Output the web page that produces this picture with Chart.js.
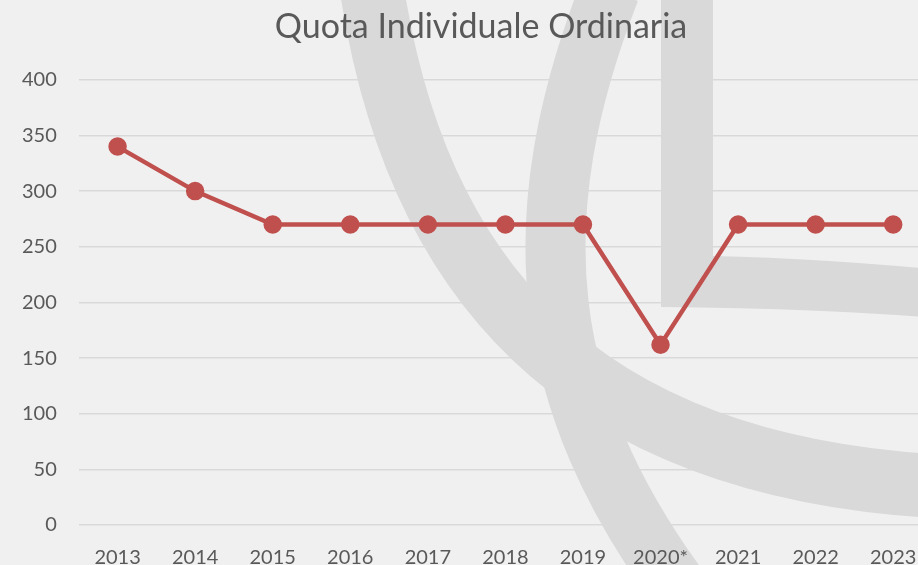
<!DOCTYPE html>
<html>
<head>
<meta charset="utf-8">
<script src="https://cdn.jsdelivr.net/npm/chart.js@4.4.1/dist/chart.umd.min.js"></script>
<style>
  html, body { margin: 0; padding: 0; background: #f0f0f0; overflow: hidden; }
  #wrap { width: 964px; height: 565px; }
</style>
</head>
<body>
<div id="wrap"><canvas id="myChart" width="964" height="565"></canvas></div>
<script>
const years = ['2013', '2014', '2015', '2016', '2017', '2018', '2019', '2020*', '2021', '2022', '2023']
const quota = [340, 300, 270, 270, 270, 270, 270, 162, 270, 270, 270]
const yTicks = [0, 50, 100, 150, 200, 250, 300, 350, 400]

const textColor = '#595959'
const lineColor = '#c0504d'

// grey logo behind the plot, plus a small nudge of the title
const watermark = {
    id: 'watermark',
    afterLayout(chart) {
        let t = chart.titleBlock
        if (t) {
            t.left += 15
            t.right += 15
        }
    },
    beforeDraw(chart) {
        let ctx = chart.ctx
        ctx.save()
        ctx.fillStyle = '#f0f0f0'
        ctx.fillRect(0, 0, chart.width, chart.height)

        ctx.strokeStyle = '#d9d9d9'
        ctx.fillStyle = '#d9d9d9'
        ctx.lineCap = 'butt'

        // outer curve
        ctx.lineWidth = 64
        ctx.beginPath()
        ctx.moveTo(372, -10)
        ctx.bezierCurveTo(420, 300, 600, 480, 980, 488)
        ctx.stroke()

        // inner curve
        ctx.lineWidth = 60
        ctx.beginPath()
        ctx.moveTo(610, -10)
        ctx.bezierCurveTo(520, 220, 540, 400, 680, 590)
        ctx.stroke()

        // L shape
        ctx.beginPath()
        ctx.moveTo(661, 0)
        ctx.lineTo(713, 0)
        ctx.lineTo(713, 256)
        ctx.quadraticCurveTo(820, 258, 964, 272)
        ctx.lineTo(964, 320)
        ctx.quadraticCurveTo(820, 308, 661, 307)
        ctx.closePath()
        ctx.fill()
        ctx.restore()
    }
}

const chartdata = {
    labels: years,
    datasets: [{
        label: 'Quota Individuale Ordinaria',
        data: quota,
        borderColor: lineColor,
        backgroundColor: lineColor,
        borderWidth: 4.5,
        pointRadius: 7,
        pointHoverRadius: 7,
        tension: 0
    }]
}

var canvas = document.getElementById('myChart')
var config = {
    type: 'line',
    data: chartdata,
    plugins: [watermark],
    options: {
        responsive: false,
        animation: false,
        layout: { padding: { left: 0, right: 32, top: 7, bottom: -26 } },
        plugins: {
            legend: { display: false },
            tooltip: { enabled: false },
            title: {
                display: true,
                text: 'Quota Individuale Ordinaria',
                color: textColor,
                font: { family: 'Lato', size: 34, weight: 'normal' },
                padding: { top: 0, bottom: 32 }
            }
        },
        scales: {
            x: {
                offset: true,
                grid: { display: false, drawTicks: false },
                border: { display: false },
                ticks: {
                    color: textColor,
                    font: { family: 'Lato', size: 20 },
                    padding: 21,
                    maxRotation: 0,
                    autoSkip: false
                }
            },
            y: {
                min: 0,
                max: 400,
                afterBuildTicks: axis => { axis.ticks = yTicks.map(v => ({ value: v })) },
                grid: { color: '#d9d9d9', lineWidth: 1.5, drawTicks: false },
                border: { display: false },
                ticks: {
                    color: textColor,
                    font: { family: 'Lato', size: 20 },
                    padding: 22
                }
            }
        }
    }
}
let myChart = new Chart(canvas, config)
</script>
</body>
</html>
